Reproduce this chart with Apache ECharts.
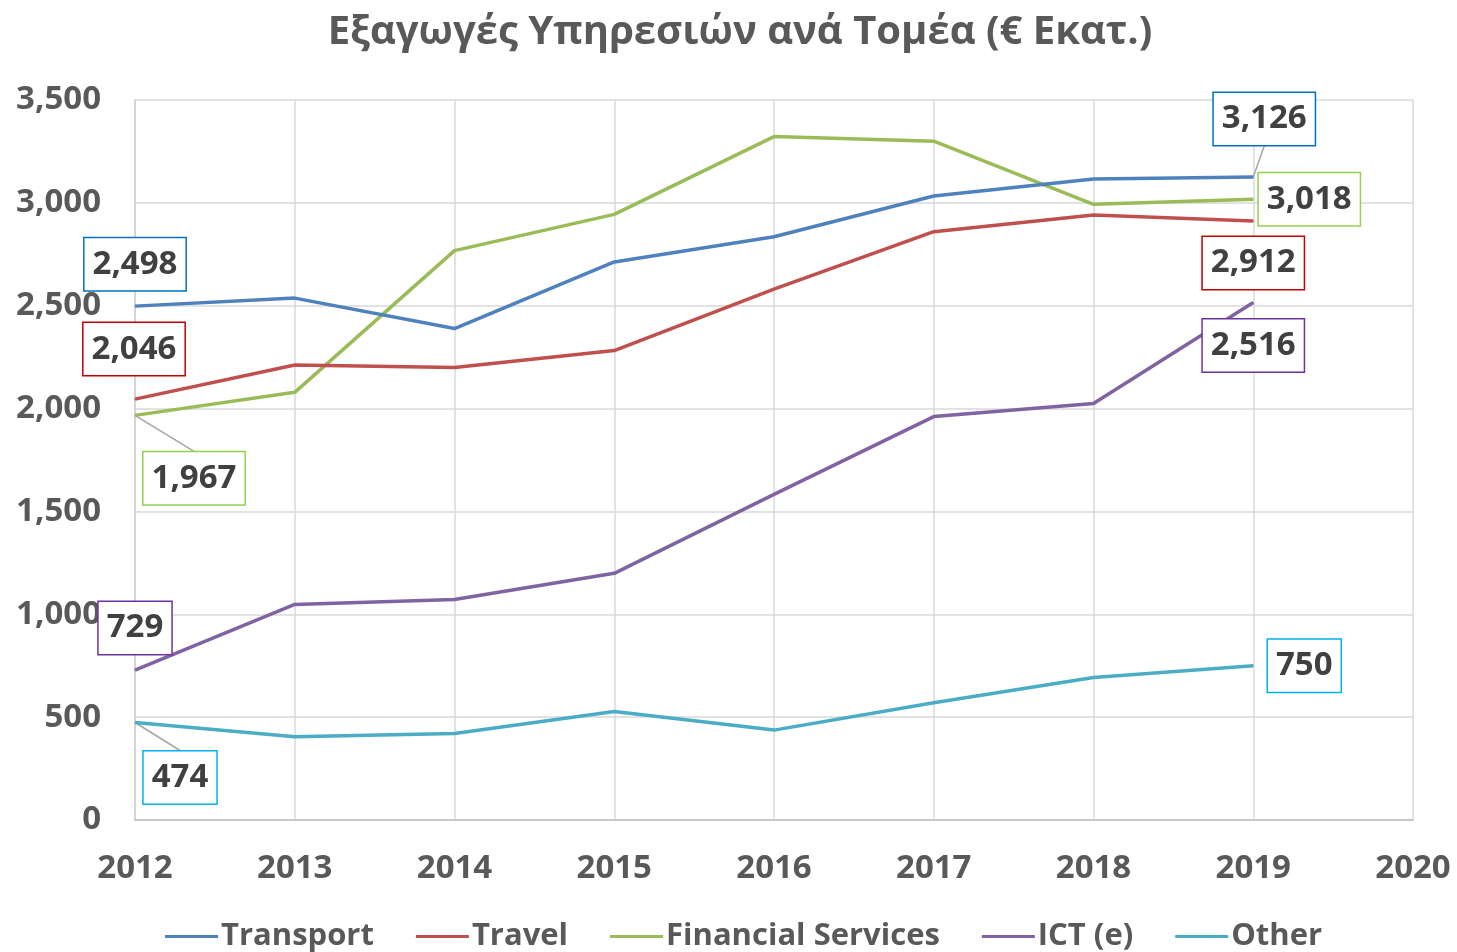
<!DOCTYPE html>
<html><head><meta charset="utf-8">
<script src="https://cdn.jsdelivr.net/npm/echarts@6/dist/echarts.min.js"></script>
<style>html,body{margin:0;padding:0;background:#fff}#c{width:1457px;height:952px}</style>
</head><body><div id="c"></div>
<script>
const years = [2012, 2013, 2014, 2015, 2016, 2017, 2018, 2019];
const transport = [2498, 2537, 2389, 2713, 2835, 3033, 3116, 3126];
const travel = [2046, 2212, 2200, 2282, 2581, 2860, 2941, 2912];
const financial = [1967, 2079, 2768, 2944, 3322, 3300, 2993, 3018];
const ict = [729, 1048, 1072, 1199, 1583, 1961, 2025, 2516];
const other = [474, 405, 421, 527, 437, 570, 693, 750];
const seriesNames = ['Transport', 'Travel', 'Financial Services', 'ICT (e)', 'Other'];
const seriesValues = [transport, travel, financial, ict, other];
const xMin = 2012, xMax = 2020, yMax = 3500, yStep = 500;

const lineColors = ['#4F81BD', '#C0504D', '#9BBB59', '#8064A2', '#4BACC6'];
const boxColors = ['#0070C0', '#C00000', '#92D050', '#7030A0', '#00B0F0'];
// label offsets (px) for first and last point: [dx, dy, leader]
const labelOffsets = [
  {first: [0, -42, false], last: [11, -58, true]},
  {first: [-1, -50, false], last: [0, 42, false]},
  {first: [59, 63, true], last: [56, 0, false]},
  {first: [0, -42, false], last: [0, 43, false]},
  {first: [45, 55, true], last: [51, 0, false]}
];
const BOX_H = 54;
const FONT = '"Open Sans", "Noto Sans", sans-serif';
const fmt = v => v.toLocaleString('en-US');

const series = seriesNames.map((name, si) => {
  const vals = seriesValues[si];
  const data = vals.map((v, i) => {
    const item = {value: [years[i], v]};
    if (i === 0 || i === vals.length - 1) {
      item.label = {show: true, borderColor: boxColors[si]};
    }
    return item;
  });
  return {
    name, type: 'line', data,
    showSymbol: true, symbol: 'circle', symbolSize: 1,
    itemStyle: {color: lineColors[si]},
    lineStyle: {color: lineColors[si], width: 3.5},
    emphasis: {disabled: true},
    z: 5 - si,
    label: {
      show: false, position: 'inside',
      formatter: p => fmt(p.value[1]),
      fontFamily: FONT, fontWeight: 'bold', fontSize: 33, color: '#404040',
      backgroundColor: '#fff', borderWidth: 1.5, borderRadius: 0,
      padding: [6, 8, 6, 8], lineHeight: 40
    },
    labelLayout: p => {
      const last = p.dataIndex === vals.length - 1;
      const off = last ? labelOffsets[si].last : labelOffsets[si].first;
      return {dx: off[0], dy: off[1]};
    }
  };
});

const chart = echarts.init(document.getElementById('c'), null, {renderer: 'canvas'});
chart.setOption({
  animation: false,
  backgroundColor: '#fff',
  title: {
    text: 'Εξαγωγές Υπηρεσιών ανά Τομέα (€ Εκατ.)',
    left: 735, textAlign: 'center', top: 8,
    textStyle: {fontFamily: FONT, fontWeight: 'bold', fontSize: 40, color: '#595959'}
  },
  grid: {left: 135, right: 44, top: 100, bottom: 132, containLabel: false},
  xAxis: {
    type: 'value', min: xMin, max: xMax, interval: 1,
    axisLine: {show: true, lineStyle: {color: '#BFBFBF', width: 1.5}},
    axisTick: {show: false},
    splitLine: {show: true, lineStyle: {color: '#D9D9D9', width: 1.5}},
    axisLabel: {formatter: v => String(v), margin: 32, fontFamily: FONT, fontWeight: 'bold', fontSize: 33, color: '#595959'}
  },
  yAxis: {
    type: 'value', min: 0, max: yMax, interval: yStep,
    axisLine: {show: true, lineStyle: {color: '#D0D0D0', width: 1.5}},
    axisTick: {show: false},
    splitLine: {show: true, lineStyle: {color: '#D9D9D9', width: 1.5}},
    axisLabel: {formatter: v => fmt(v), margin: 34, fontFamily: FONT, fontWeight: 'bold', fontSize: 33, color: '#595959'}
  },
  legend: {
    data: seriesNames, bottom: -5, left: 160,
    icon: 'rect', itemWidth: 53, itemHeight: 3, itemGap: 42,
    textStyle: {fontFamily: FONT, fontWeight: 'bold', fontSize: 31, color: '#595959', padding: [0, 0, 0, -2]}
  },
  series
});

// leader lines from data points to the centre of the label box edge, via the chart's own scales
const leaders = [];
seriesValues.forEach((vals, si) => {
  [0, vals.length - 1].forEach(i => {
    const off = i === 0 ? labelOffsets[si].first : labelOffsets[si].last;
    if (!off[2]) return;
    const p = chart.convertToPixel({gridIndex: 0}, [years[i], vals[i]]);
    const ey = off[1] > 0 ? p[1] + off[1] - BOX_H / 2 : p[1] + off[1] + BOX_H / 2;
    leaders.push({
      type: 'line', z: 1,
      shape: {x1: p[0], y1: p[1], x2: p[0] + off[0], y2: ey},
      style: {stroke: '#A6A6A6', lineWidth: 1.5}
    });
  });
});
chart.setOption({graphic: leaders});
</script></body></html>
